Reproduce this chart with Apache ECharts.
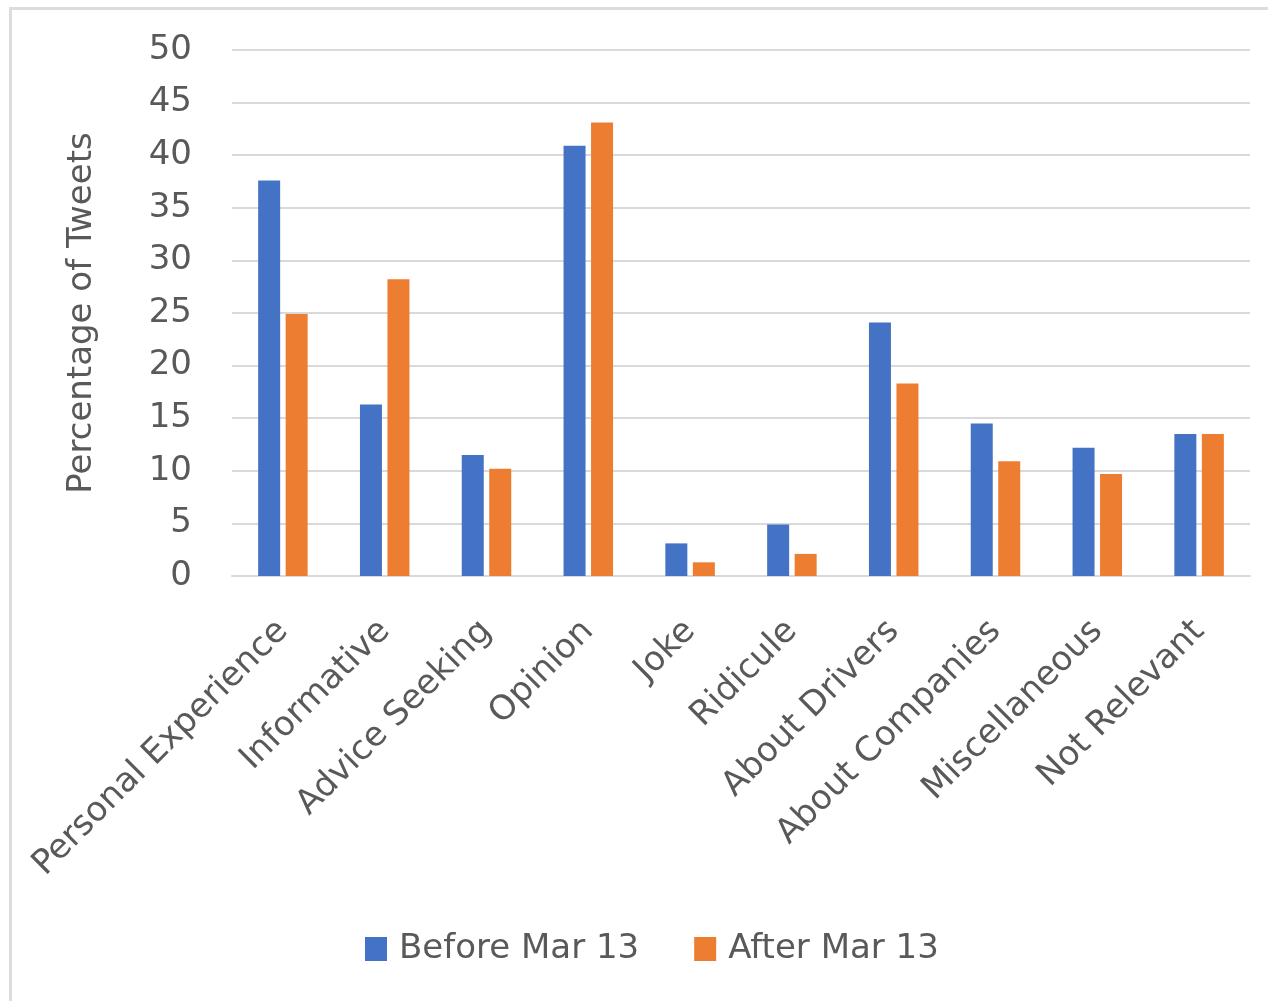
<!DOCTYPE html>
<html>
<head>
<meta charset="utf-8">
<script src="https://cdn.jsdelivr.net/npm/echarts@6/dist/echarts.min.js"></script>
<style>
html,body{margin:0;padding:0;background:#fff;}
#chart{width:1268px;height:1001px;}
#frame{position:absolute;left:9px;top:7px;width:1300px;height:1100px;border-top:3px solid #DCDCDC;border-left:3px solid #DCDCDC;pointer-events:none;}
</style>
</head>
<body>
<div id="chart"></div>
<div id="frame"></div>
<script>
const categories = ['Personal Experience','Informative','Advice Seeking','Opinion','Joke','Ridicule','About Drivers','About Companies','Miscellaneous','Not Relevant'];
const beforeMar13 = [37.6, 16.3, 11.5, 40.9, 3.1, 4.9, 24.1, 14.5, 12.2, 13.5];
const afterMar13 = [24.9, 28.2, 10.2, 43.1, 1.3, 2.1, 18.3, 10.9, 9.7, 13.5];
const seriesNames = ['Before Mar 13','After Mar 13'];

const chart = echarts.init(document.getElementById('chart'));
const txt = '#595959';
const font = 'DejaVu Sans';
chart.setOption({
  animation: false,
  textStyle: { fontFamily: font },
  grid: { left: 232, right: 18, top: 50, bottom: 425, containLabel: false },
  legend: {
    top: 927, left: 360,
    itemWidth: 22, itemHeight: 24, itemGap: 55,
    icon: 'rect',
    textStyle: { fontSize: 34, color: txt, fontFamily: font, padding: [0, 0, 0, 7] },
    data: seriesNames
  },
  xAxis: {
    type: 'category',
    data: categories,
    axisLine: { lineStyle: { color: '#D9D9D9', width: 2 } },
    axisTick: { show: false },
    axisLabel: { rotate: 45, interval: 0, fontSize: 34, color: txt, margin: 50, fontFamily: font }
  },
  yAxis: {
    type: 'value',
    min: 0, max: 50, interval: 5,
    name: 'Percentage of Tweets',
    nameLocation: 'middle',
    nameGap: 133,
    nameTextStyle: { fontSize: 34, color: txt, fontFamily: font },
    axisLine: { show: false },
    axisTick: { show: false },
    axisLabel: { fontSize: 34, color: txt, margin: 40, fontFamily: font },
    splitLine: { lineStyle: { color: '#D9D9D9', width: 2 } }
  },
  series: [
    { name: seriesNames[0], type: 'bar', data: beforeMar13, barWidth: 22, barGap: '25%',
      itemStyle: { color: '#4472C4' } },
    { name: seriesNames[1], type: 'bar', data: afterMar13, barWidth: 22, barGap: '25%',
      itemStyle: { color: '#ED7D31' } }
  ]
});
</script>
</body>
</html>
